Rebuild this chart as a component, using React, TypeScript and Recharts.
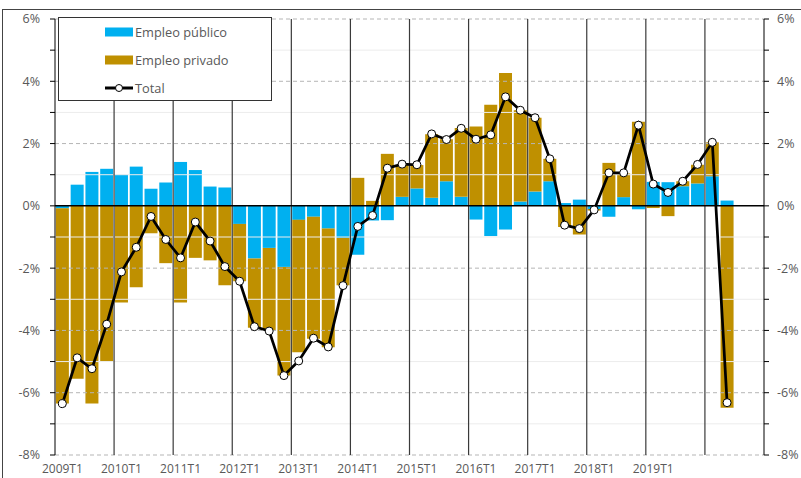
import React from 'react';
import {
  ComposedChart,
  Bar,
  Line,
  XAxis,
  YAxis,
  ReferenceLine,
} from 'recharts';

const YEARS = [2009, 2010, 2011, 2012, 2013, 2014, 2015, 2016, 2017, 2018, 2019, 2020];
const QUARTER_NAMES = ['T1', 'T2', 'T3', 'T4'];

const TICK_LABELS = [
  '2009T1', '2010T1', '2011T1', '2012T1', '2013T1', '2014T1',
  '2015T1', '2016T1', '2017T1', '2018T1', '2019T1',
];

const YEAR_STARTS = [
  '2010T1', '2011T1', '2012T1', '2013T1', '2014T1', '2015T1',
  '2016T1', '2017T1', '2018T1', '2019T1', '2020T1',
];

// Empleo público, % contribution
const publico = [
  -0.08, 0.68, 1.09, 1.19, 1.0, 1.26, 0.55, 0.75, 1.41, 1.15, 0.62, 0.59,
  -0.58, -1.69, -1.35, -1.96, -0.45, -0.35, -0.73, -1.03, -1.57, -0.47, -0.46, 0.29,
  0.56, 0.26, 0.79, 0.29, -0.44, -0.97, -0.76, 0.14, 0.46, 0.79, 0.09, 0.2,
  -0.1, -0.35, 0.28, -0.11, 0.77, 0.76, 0.63, 0.72, 0.95, 0.17,
];

// Empleo privado, % contribution
const privado = [
  -6.27, -5.55, -6.35, -4.99, -3.1, -2.61, -0.88, -1.84, -3.1, -1.67, -1.75, -2.55,
  -1.84, -2.22, -2.64, -3.49, -4.25, -3.92, -3.81, -1.52, 0.9, 0.16, 1.67, 1.02,
  0.75, 2.04, 1.35, 2.21, 2.55, 3.25, 4.27, 2.93, 2.37, 0.72, -0.68, -0.92,
  -0.05, 1.38, 0.76, 2.7, -0.07, -0.33, 0.16, 0.6, 1.09, -6.48,
];

const total = [
  -6.35, -4.88, -5.23, -3.8, -2.12, -1.33, -0.34, -1.08, -1.67, -0.52, -1.13, -1.95,
  -2.42, -3.88, -4.02, -5.45, -4.98, -4.25, -4.53, -2.56, -0.66, -0.31, 1.21, 1.34,
  1.32, 2.31, 2.13, 2.49, 2.14, 2.28, 3.5, 3.07, 2.83, 1.51, -0.62, -0.73,
  -0.13, 1.06, 1.06, 2.59, 0.7, 0.43, 0.79, 1.33, 2.04, -6.32,
];

const Y_TICKS = [-8, -7, -6, -5, -4, -3, -2, -1, 0, 1, 2, 3, 4, 5, 6];

const quarters = YEARS.flatMap((y) => QUARTER_NAMES.map((q) => `${y}${q}`));

const data = quarters.map((q, i) => ({
  q,
  publico: publico[i] ?? null,
  privado: privado[i] ?? null,
  total: total[i] ?? null,
}));

const BLUE = '#00B0F0';
const GOLD = '#BF9000';
const TEXT = '#595959';
const FONT = '"Open Sans", sans-serif';

const fmtY = (v: number) => (v % 2 === 0 ? `${v}%` : '');
const fmtX = (v: string) => (TICK_LABELS.includes(v) ? v : '');

const LegendBox = () => (
  <div
    style={{
      position: 'absolute',
      left: 58,
      top: 17,
      width: 212,
      height: 82,
      border: '1px solid #333',
      background: '#fff',
      fontFamily: FONT,
      fontSize: 12.8,
      color: TEXT,
    }}
  >
    {[
      { label: 'Empleo público', kind: 'bar', color: BLUE },
      { label: 'Empleo privado', kind: 'bar', color: GOLD },
      { label: 'Total', kind: 'line', color: '#000' },
    ].map((it, i) => (
      <div
        key={it.label}
        style={{
          position: 'absolute',
          left: 46,
          top: 5 + i * 28,
          height: 18,
          display: 'flex',
          alignItems: 'center',
        }}
      >
        <svg width={29} height={12} style={{ marginRight: 1 }}>
          {it.kind === 'bar' ? (
            <rect x={0} y={1.5} width={28} height={9} fill={it.color} />
          ) : (
            <g>
              <line x1={0} y1={6} x2={28} y2={6} stroke="#000" strokeWidth={3} />
              <circle cx={14} cy={6} r={3.5} fill="#fff" stroke="#000" strokeWidth={1} />
            </g>
          )}
        </svg>
        <span>{it.label}</span>
      </div>
    ))}
  </div>
);

export default function App() {
  return (
    <div style={{ position: 'absolute', left: 0, top: 0, width: 801, height: 478, background: '#fff', overflow: 'hidden' }}>
      <div
        style={{
          position: 'absolute',
          left: 2,
          top: 9,
          width: 820,
          height: 500,
          borderTop: '1px solid #444',
          borderLeft: '1px solid #444',
        }}
      />
      <ComposedChart
        width={801}
        height={478}
        data={data}
        stackOffset="sign"
        barCategoryGap="6%"
        margin={{ top: 19, right: 0, bottom: 0, left: 0 }}
        style={{ position: 'absolute', left: 0, top: 0 }}
      >
        <XAxis
          dataKey="q"
          interval={0}
          tickFormatter={fmtX}
          tickLine={false}
          axisLine={false}
          height={23}
          tickMargin={3}
          tick={{ fill: TEXT, fontSize: 12, fontFamily: FONT }}
        />
        <YAxis
          yAxisId="left"
          domain={[-8, 6]}
          ticks={Y_TICKS}
          interval={0}
          tickFormatter={fmtY}
          width={55}
          tickSize={5}
          tickMargin={10}
          allowDataOverflow
          axisLine={{ stroke: '#000' }}
          tickLine={{ stroke: '#000' }}
          tick={{ fill: TEXT, fontSize: 12.5, fontFamily: FONT }}
        />
        <YAxis
          yAxisId="right"
          orientation="right"
          domain={[-8, 6]}
          ticks={Y_TICKS}
          interval={0}
          tickFormatter={fmtY}
          width={37}
          tickSize={5}
          tickMargin={8}
          allowDataOverflow
          axisLine={{ stroke: '#000' }}
          tickLine={{ stroke: '#000' }}
          tick={{ fill: TEXT, fontSize: 12.5, fontFamily: FONT, textAnchor: 'start' }}
        />
        {Y_TICKS.filter((v) => v !== 0).map((v) => (
          <ReferenceLine
            key={`h${v}`}
            yAxisId="left"
            y={v}
            stroke={v % 2 === 0 ? '#b5b5b5' : '#ececec'}
            strokeDasharray={v % 2 === 0 ? '4 3' : undefined}
            strokeWidth={1}
          />
        ))}
        {YEAR_STARTS.map((q) => (
          <ReferenceLine
            key={q}
            yAxisId="left"
            x={q}
            position="start"
            stroke="#3a3a3a"
            strokeWidth={1.2}
          />
        ))}
        <Bar
          yAxisId="left"
          dataKey="publico"
          stackId="a"
          fill={BLUE}
          isAnimationActive={false}
        />
        <Bar
          yAxisId="left"
          dataKey="privado"
          stackId="a"
          fill={GOLD}
          isAnimationActive={false}
        />
        <ReferenceLine yAxisId="left" y={0} stroke="#000" strokeWidth={1.5} />
        <Line
          yAxisId="left"
          dataKey="total"
          type="linear"
          stroke="#000"
          strokeWidth={2.75}
          dot={{ r: 4, fill: '#fff', stroke: '#000', strokeWidth: 1 }}
          activeDot={false}
          connectNulls={false}
          isAnimationActive={false}
        />
      </ComposedChart>
      <LegendBox />
    </div>
  );
}
